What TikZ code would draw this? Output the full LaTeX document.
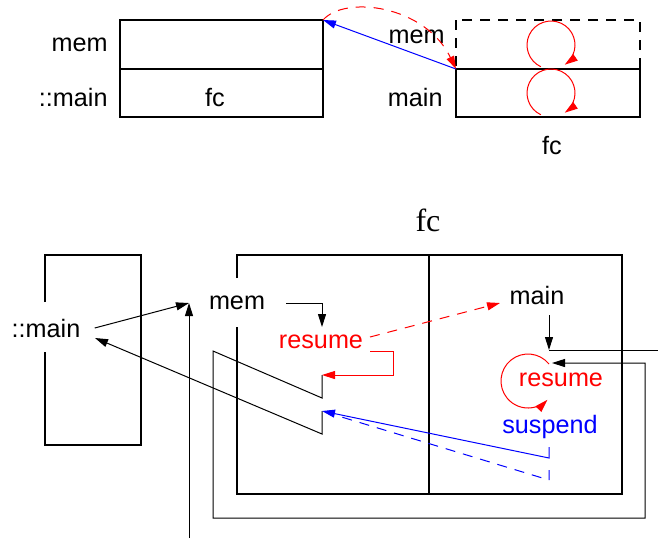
\documentclass[tikz,border=0pt]{standalone}
\usepackage{fontspec}
\setmainfont{Liberation Sans}
\newfontfamily\fcserif{Liberation Serif}
\usepackage{tikz}
\usetikzlibrary{positioning,arrows.meta}
\definecolor{resumered}{RGB}{255,0,0}
\definecolor{suspendblue}{RGB}{0,0,255}

\begin{document}
\begin{tikzpicture}[x=0.5pt,y=-0.5pt,
    lbl/.style={font=\fontsize{12.6}{15}\selectfont,inner sep=0pt},
    stackbox/.style={line width=0.65pt},
    frame/.style={line width=1.2pt},
    wire/.style={line width=0.5pt},
    dashline/.style={dash pattern=on 5pt off 4pt},
    arr/.style={-{Triangle[length=6.5pt,width=4pt]}}]
    \useasboundingbox (0,0) rectangle (658,538);

    % stacks before and after the call
    \draw[stackbox] (120,20) rectangle (323,117);
    \draw[stackbox] (120,69) -- (323,69);
    \node[lbl,anchor=east] (memA) at (108,45) {mem};
    \node[lbl,anchor=east] (mainA) at (108,97) {::main};
    \node[lbl] (fcA) at (215,97) {fc};
    \draw[stackbox,dashline] (456,20) rectangle (640,69);
    \draw[stackbox] (456,69) rectangle (640,117);
    \node[lbl,anchor=east] (memB) at (445,37) {mem};
    \node[lbl,anchor=east] (mainB) at (443,97) {main};
    \node[lbl] (fcB) at (552,145) {fc};
    \coordinate (topL) at (323,20);
    \coordinate (topR) at (456,69);
    \draw[wire,suspendblue,arr] (topR) -- (topL);
    \draw[wire,resumered,dashline,arr] (topL) .. controls (345,-5) and (425,5) .. (topR);
    \coordinate (loopA) at (551,45);
    \coordinate (loopB) at (551,93);
    \draw[wire,resumered,arr] (loopA) ++(115:24) arc[start angle=115,end angle=415,radius=24];
    \draw[wire,resumered,arr] (loopB) ++(115:24) arc[start angle=115,end angle=415,radius=24];

    % caller and coroutine
    \node[font=\fcserif\fontsize{16}{18}\selectfont] (fcC) at (428,220) {fc};
    \draw[frame] (45,302) -- (45,255) -- (141,255) -- (141,445) -- (45,445) -- (45,352);
    \node[lbl] (callerL) at (46,328) {::main};
    \draw[frame] (237,278) -- (237,255) -- (622,255) -- (622,494) -- (237,494) -- (237,327);
    \draw[frame] (429,255) -- (429,494);
    \node[lbl] (memL) at (237,303) {mem};
    \node[lbl,text=resumered] (resumeL) at (321,342) {resume};
    \node[lbl] (mainR) at (537,295) {main};
    \node[lbl,text=resumered] (resumeR) at (561,380) {resume};
    \node[lbl,text=suspendblue] (suspendR) at (550,427) {suspend};

    \coordinate (entry) at (189,303);
    \coordinate (base) at (189,538);
    \coordinate (backL) at (95,338);
    \coordinate (gateA) at (322,375);
    \coordinate (gateB) at (322,411);
    \coordinate (gateR) at (552,363);
    \coordinate (mainIn) at (549,350);
    \draw[wire,arr] ([xshift=7pt]callerL.east) -- (entry);
    \draw[wire,arr] (base) -- (entry);
    \draw[wire,arr] (gateB) -- (322,434) -- (backL);
    \draw[wire,arr] (gateA) -- (322,398) -- (213,351) -- (213,518) -- (645,518) -- (645,363) -- (gateR);
    \draw[wire,arr] ([xshift=10.5pt]memL.east) -| (322,327);
    \draw[wire,arr] (mainIn |- 0,315) -- (mainIn);
    \draw[wire] (mainIn) -- (658,350);

    \draw[wire,resumered,arr] (370,351) -- (393,351) -- (393,375) -- (gateA);
    \draw[wire,resumered,dashline,arr] (370,337) -- (500,303);
    \coordinate (loopC) at (528,381);
    \draw[wire,resumered,arr] (loopC) ++(321:27) arc[start angle=321,end angle=44,radius=27];
    \draw[wire,suspendblue,arr] (549,447) -- (549,458) -- (gateB);
    \draw[wire,suspendblue,dashline] (549,470) -- (549,480) -- (335,415);
\end{tikzpicture}
\end{document}
